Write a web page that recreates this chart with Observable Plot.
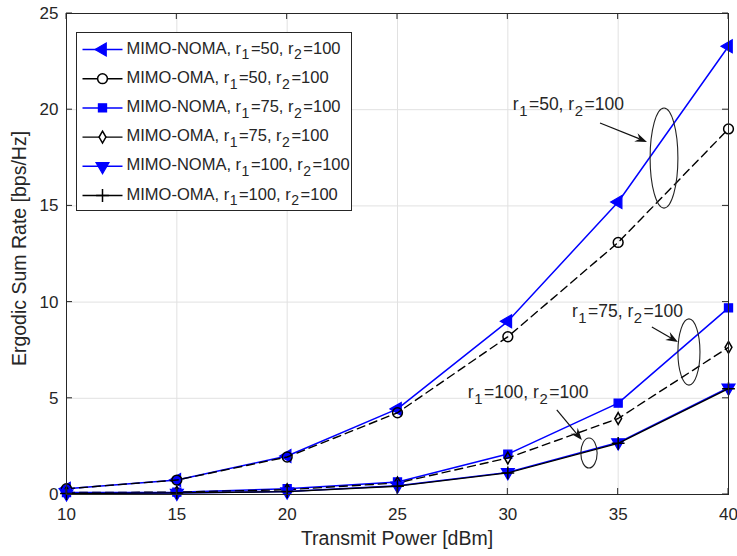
<!DOCTYPE html>
<html><head><meta charset="utf-8">
<script src="https://cdn.jsdelivr.net/npm/d3@7"></script>
<script src="https://cdn.jsdelivr.net/npm/@observablehq/plot@0.6"></script>
<style>body{margin:0;background:#fff;} #chart{width:737px;height:556px;}</style>
</head><body><div id="chart"></div>
<script>
// ---- data ----
const power = [10, 15, 20, 25, 30, 35, 40];
const nomaR50  = [0.3, 0.75, 2.0, 4.45, 9.0, 15.2, 23.3];
const omaR50   = [0.3, 0.75, 1.95, 4.25, 8.2, 13.1, 19.0];
const nomaR75  = [0.1, 0.12, 0.3, 0.65, 2.1, 4.75, 9.7];
const omaR75   = [0.1, 0.12, 0.25, 0.6, 1.9, 3.95, 7.65];
const nomaR100 = [0.05, 0.08, 0.15, 0.45, 1.15, 2.7, 5.55];
const omaR100  = [0.05, 0.08, 0.15, 0.43, 1.12, 2.66, 5.5];
const schemes  = ["MIMO-NOMA", "MIMO-OMA", "MIMO-NOMA", "MIMO-OMA", "MIMO-NOMA", "MIMO-OMA"];
const r1Values = [50, 50, 75, 75, 100, 100];
const r2Value  = 100;
const xTicks = [10, 15, 20, 25, 30, 35, 40];
const yTicks = [0, 5, 10, 15, 20, 25];
const xLabel = "Transmit Power [dBm]";
const yLabel = "Ergodic Sum Rate [bps/Hz]";
// annotation groups (data coordinates)
const annoR1 = [50, 75, 100];
const annoTextX = [30.25, 32.93, 28.21], annoTextY = [19.96, 9.2, 4.99];
const arrowX1 = [34.2, 36.55, 32.24], arrowY1 = [19.28, 8.68, 4.37];
const arrowX2 = [36.33, 37.73, 33.38], arrowY2 = [18.3, 7.9, 2.81];
const ellCX = [37.1, 38.23, 33.7], ellCY = [17.46, 7.38, 2.13];
const ellRX = [0.63, 0.5, 0.37],   ellRY = [2.6, 1.72, 0.78];

// ---- styles ----
const seriesValues = [nomaR50, omaR50, nomaR75, omaR75, nomaR100, omaR100];
const BLUE = "#0000ff", BLACK = "#000000";
const styles = [
  {color: BLUE,  dash: null,  width: 1.5, symbol: d3.symbolTriangle, rotate: -90, filled: true,  r: 4.8},
  {color: BLACK, dash: "8,5", width: 1.4, symbol: d3.symbolCircle,   rotate: 0,   filled: false, r: 4.9},
  {color: BLUE,  dash: null,  width: 1.5, symbol: d3.symbolSquare,   rotate: 0,   filled: true,  r: 4.6},
  {color: BLACK, dash: "8,5", width: 1.4, symbol: d3.symbolDiamond,  rotate: 0,   filled: false, r: 3.6},
  {color: BLUE,  dash: null,  width: 1.5, symbol: d3.symbolTriangle, rotate: 180, filled: true,  r: 4.8},
  {color: BLACK, dash: null,  width: 1.3, symbol: d3.symbolPlus,     rotate: 0,   filled: false, r: 4.2},
];
const FONT = "'Liberation Sans', Arial, Helvetica, sans-serif";
const TXT = "#262626";

function richLabel(sel, prefix, r1, r2, fs) {
  const t = sel.append("text").attr("font-size", fs).attr("fill", TXT).attr("text-anchor", "start");
  const parts = [[prefix + "r", 0], ["1", 1], ["=" + r1 + ", r", 0], ["2", 1], ["=" + r2, 0]];
  let cur = 0, prevSub = false;
  for (const [s, sub] of parts) {
    const sp = t.append("tspan").text(s);
    const shift = sub ? fs * 0.36 : 0;
    sp.attr("dy", shift - cur);
    cur = shift;
    if (sub) sp.attr("font-size", fs * 0.85).attr("dx", 0.5);
    if (!sub && prevSub) sp.attr("dx", 1.5);
    prevSub = !!sub;
  }
  return t;
}

const marks = [
  Plot.gridX(xTicks, {stroke: "#e1e1e1", strokeOpacity: 1}),
  Plot.gridY(yTicks, {stroke: "#e1e1e1", strokeOpacity: 1}),
];
seriesValues.forEach((vals, k) => {
  const st = styles[k];
  const rows = power.map((p, i) => ({power: p, rate: vals[i]}));
  marks.push(Plot.line(rows, {x: "power", y: "rate", stroke: st.color, strokeWidth: st.width,
    strokeDasharray: st.dash || undefined}));
  marks.push(Plot.dot(rows, {x: "power", y: "rate", symbol: st.symbol, r: st.r, rotate: st.rotate,
    fill: st.filled ? st.color : "none", stroke: st.color, strokeWidth: st.filled ? 1.2 : 1.5}));
});

// annotations: text, arrows, ellipses
marks.push((index, {x, y}) => {
  const g = d3.create("svg:g").attr("font-family", FONT);
  annoR1.forEach((r1, i) => {
    const t = richLabel(g, "", r1, r2Value, 17.5);
    t.attr("x", x(annoTextX[i])).attr("y", y(annoTextY[i]));
    const ax1 = x(arrowX1[i]), ay1 = y(arrowY1[i]), ax2 = x(arrowX2[i]), ay2 = y(arrowY2[i]);
    const ang = Math.atan2(ay2 - ay1, ax2 - ax1);
    const hl = 12, hw = 4.5, notch = 8;
    const bx = ax2 - hl * Math.cos(ang), by = ay2 - hl * Math.sin(ang);
    const nx = ax2 - notch * Math.cos(ang), ny = ay2 - notch * Math.sin(ang);
    const px = -Math.sin(ang), py = Math.cos(ang);
    g.append("line").attr("x1", ax1).attr("y1", ay1).attr("x2", nx).attr("y2", ny)
      .attr("stroke", "#111").attr("stroke-width", 1.2);
    g.append("path").attr("d", `M${ax2},${ay2}L${bx + hw * px},${by + hw * py}L${nx},${ny}L${bx - hw * px},${by - hw * py}Z`)
      .attr("fill", "#111");
    const cx = x(ellCX[i]), cy = y(ellCY[i]);
    g.append("ellipse").attr("cx", cx).attr("cy", cy)
      .attr("rx", Math.abs(x(ellCX[i] + ellRX[i]) - cx)).attr("ry", Math.abs(y(ellCY[i] + ellRY[i]) - cy))
      .attr("fill", "none").attr("stroke", "#222").attr("stroke-width", 1.1);
  });
  return g.node();
});

// frame, inward ticks, axis titles, legend
marks.push(Plot.frame({stroke: "#262626", strokeWidth: 1}));
marks.push(Plot.axisX(xTicks, {tickSize: 0, tickPadding: 13, fontSize: 17, fill: TXT, label: null}));
marks.push(Plot.axisY(yTicks, {tickSize: 0, tickPadding: 8, fontSize: 17, fill: TXT, label: null}));
marks.push((index, {x, y}, values, dims) => {
  const g = d3.create("svg:g").attr("font-family", FONT);
  const top = dims.marginTop, bottom = dims.height - dims.marginBottom;
  const left = dims.marginLeft, right = dims.width - dims.marginRight;
  const L = 6;
  const tk = g.append("g").attr("stroke", "#262626").attr("stroke-width", 1);
  xTicks.forEach(t => {
    const p = x(t);
    tk.append("line").attr("x1", p).attr("x2", p).attr("y1", bottom).attr("y2", bottom - L);
    tk.append("line").attr("x1", p).attr("x2", p).attr("y1", top).attr("y2", top + L);
  });
  yTicks.forEach(t => {
    const p = y(t);
    tk.append("line").attr("y1", p).attr("y2", p).attr("x1", left).attr("x2", left + L);
    tk.append("line").attr("y1", p).attr("y2", p).attr("x1", right).attr("x2", right - L);
  });
  g.append("text").text(xLabel).attr("x", (left + right) / 2).attr("y", dims.height - 11)
    .attr("text-anchor", "middle").attr("font-size", 19.5).attr("fill", TXT);
  g.append("text").text(yLabel).attr("transform", `translate(26,${(top + bottom) / 2 - 5}) rotate(-90)`)
    .attr("text-anchor", "middle").attr("font-size", 19.5).attr("fill", TXT);
  // legend
  const lg = g.append("g").attr("transform", `translate(${left + 10.5},${top + 19.5})`);
  lg.append("rect").attr("width", 275).attr("height", 178).attr("fill", "#fff")
    .attr("stroke", "#262626").attr("stroke-width", 1);
  schemes.forEach((name, i) => {
    const st = styles[i];
    const ry = 17 + i * 29.2;
    lg.append("line").attr("x1", 6).attr("x2", 46).attr("y1", ry).attr("y2", ry)
      .attr("stroke", st.color).attr("stroke-width", st.width);
    lg.append("path").attr("d", d3.symbol(st.symbol, Math.PI * st.r * st.r)())
      .attr("transform", `translate(26,${ry}) rotate(${st.rotate})`)
      .attr("fill", st.filled ? st.color : "#fff").attr("stroke", st.color)
      .attr("stroke-width", st.filled ? 1.2 : 1.5);
    const t = richLabel(lg, name + ", ", r1Values[i], r2Value, 16.5);
    t.attr("x", 50).attr("y", ry + 4);
  });
  return g.node();
});

const chart = Plot.plot({
  width: 737, height: 556,
  marginLeft: 66, marginRight: 9, marginTop: 13, marginBottom: 62,
  x: {domain: [10, 40]},
  y: {domain: [0, 25]},
  style: {fontFamily: FONT, fontSize: "15px", background: "#fff", overflow: "visible"},
  marks
});
document.getElementById("chart").appendChild(chart);
</script>
</body></html>
